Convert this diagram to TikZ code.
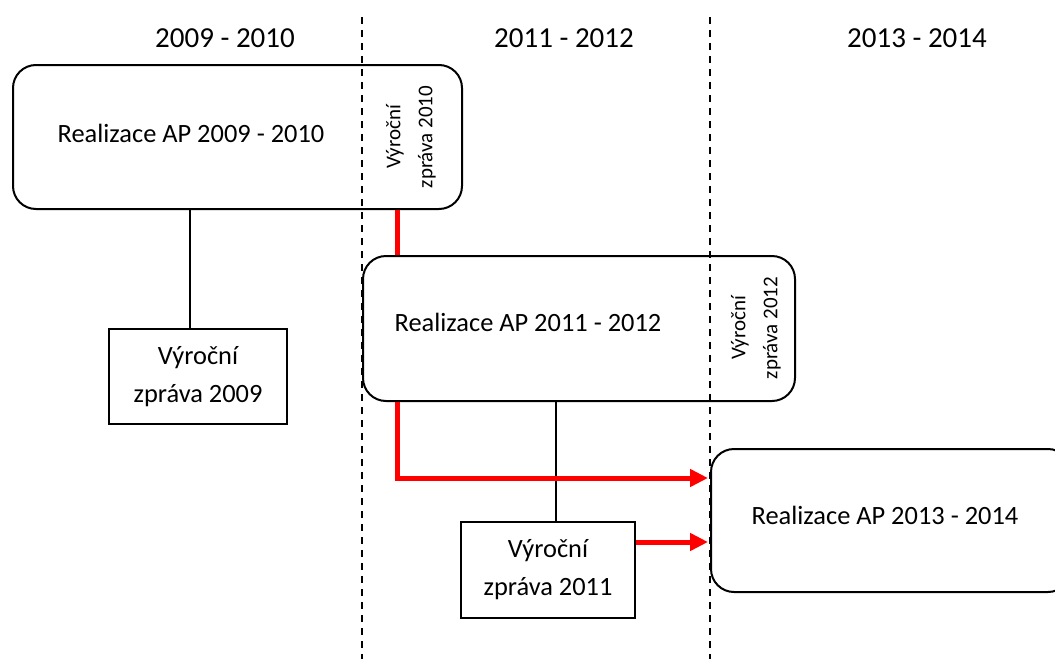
\documentclass[tikz,border=0pt]{standalone}
\usepackage{fontspec}
\setmainfont{Carlito}
\usetikzlibrary{arrows.meta,positioning,calc}

\begin{document}
\begin{tikzpicture}[
    x=0.5pt, y=-0.5pt,
    >={Triangle[length=9pt,width=8.5pt]},
    ap/.style={draw, line width=1pt, rounded corners=11.5pt, inner sep=0pt},
    aptext/.style={font=\fontsize{13.2}{16}\selectfont},
    vz/.style={draw, line width=1.2pt, inner sep=0pt, align=center, font=\fontsize{13.2}{19}\selectfont},
    vzrot/.style={rotate=90, align=center, font=\fontsize{10.5}{16}\selectfont},
    period/.style={font=\fontsize{14.5}{17}\selectfont},
    sep/.style={line width=1.1pt, dash pattern=on 3.5pt off 3pt},
    link/.style={line width=0.75pt},
    redline/.style={draw=red, line width=2.5pt}
]
\useasboundingbox (0,0) rectangle (1055,659);

% period headers
\node[period] (p0910) at (225,38) {2009 - 2010};
\node[period] (p1112) at (564,38) {2011 - 2012};
\node[period] (p1314) at (917,38) {2013 - 2014};

% action plan phases
\node[ap, minimum width=224.5pt, minimum height=72pt] (ap0910) at (237.5,137) {};
\node[ap, minimum width=216pt, minimum height=72.5pt] (ap1112) at (579,328.5) {};
\node[ap, minimum width=180pt, minimum height=71.5pt] (ap1314) at (891,520.5) {};
\node[aptext] (t0910) at (191,133) {Realizace AP 2009 - 2010};
\node[aptext] (t1112) at (528,322) {Realizace AP 2011 - 2012};
\node[aptext] (t1314) at (885,515) {Realizace AP 2013 - 2014};
\node[vzrot] (vz2010) at (411,137) {Výroční\\zpráva 2010};
\node[vzrot] (vz2012) at (756,328) {Výroční\\zpráva 2012};

% annual reports
\node[vz, minimum width=89pt, minimum height=47.5pt] (vz2009) at (198,376.5) {Výroční\\zpráva 2009};
\node[vz, minimum width=87pt, minimum height=48pt] (vz2011) at (548,570) {Výroční\\zpráva 2011};

% period borders
\draw[sep] (362,17) -- (362,659);
\draw[sep] (710,17) -- (710,659);

\coordinate (l0910) at ($(vz2009.north)+(-8,0)$);
\coordinate (l1112) at ($(vz2011.north)+(8,0)$);
\draw[link] (l0910) -- (l0910 |- ap0910.south);
\draw[link] (l1112) -- (l1112 |- ap1112.south);

\coordinate (redx) at (397,0);
\coordinate (in1314a) at ($(ap1314.west)+(-2,-42.5)$);
\coordinate (out2011) at ($(vz2011.east)+(0,-28)$);
\draw[redline] (redx |- ap0910.south) -- (redx |- ap1112.north);
\draw[redline, ->] (redx |- ap1112.south) |- (in1314a);
\draw[redline, ->] (out2011) -- (in1314a |- out2011);
\end{tikzpicture}
\end{document}
